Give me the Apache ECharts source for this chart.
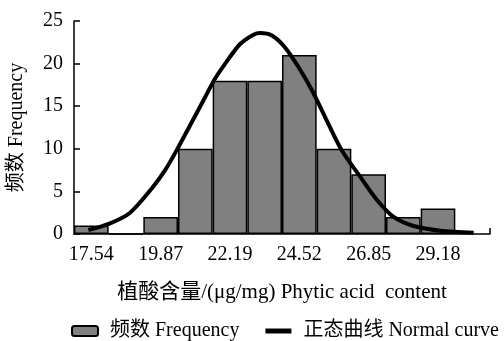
<!DOCTYPE html>
<html>
<head>
<meta charset="utf-8">
<script src="https://cdn.jsdelivr.net/npm/echarts@6/dist/echarts.min.js"></script>
<style>
  html, body { margin: 0; padding: 0; background: #fff; }
  #myChart { width: 504px; height: 341px; }
</style>
</head>
<body>
<div id="myChart"></div>
<script>
// 分组中值（每组宽 1.165）
var categories = ['17.54', '18.71', '19.87', '21.03', '22.19', '23.36', '24.52', '25.69', '26.85', '28.02', '29.18', '30.34'];
// 频数
var freq = [1, 0, 2, 10, 18, 18, 21, 10, 7, 2, 3, null];
// 正态曲线（从图上读取的点）
var curveX = [17.44, 18.17, 18.84, 19.57, 20.02, 20.41, 20.86, 21.31, 21.70, 22.04, 22.54, 22.99, 23.21, 23.61, 24.05, 24.50, 24.95, 25.40, 25.96, 26.58, 27.14, 27.70, 28.37, 29.27, 30.39];
var curveY = [0.47, 1.25, 2.5, 5.35, 7.5, 9.84, 12.77, 15.7, 18.24, 20.0, 22.3, 23.4, 23.6, 23.3, 21.9, 19.6, 16.9, 13.7, 9.8, 6.7, 4.0, 2.0, 0.94, 0.39, 0.15];

var binLeft = 16.9575, binRight = 30.9375;
var font = '"Liberation Serif", "Noto Sans CJK SC", serif';

var curve = curveX.map(function (x, i) { return [x, curveY[i]]; });

var myChart = echarts.init(document.getElementById('myChart'));
var option = {
  animation: false,
  textStyle: { fontFamily: font, color: '#000' },
  grid: { left: 74, right: 14, top: 21, bottom: 107, outerBoundsMode: 'none' },
  legend: {
    top: 316,
    left: 66,
    itemGap: 26,
    itemWidth: 26,
    itemHeight: 10,
    textStyle: { fontFamily: font, fontSize: 20, color: '#000', padding: [0, 0, 0, 7] },
    data: [
      { name: '频数 Frequency', icon: 'roundRect' },
      { name: '正态曲线 Normal curve', icon: 'path://M0,0L26,0L26,5L0,5Z' }
    ]
  },
  xAxis: [
    {
      type: 'category',
      data: categories,
      boundaryGap: true,
      name: '植酸含量/(μg/mg) Phytic acid  content',
      nameLocation: 'middle',
      nameGap: 48,
      nameTextStyle: { fontFamily: font, fontSize: 21, color: '#000' },
      axisLine: { lineStyle: { color: '#000', width: 1.5 } },
      axisTick: { show: false },
      axisLabel: { interval: 1, fontFamily: font, fontSize: 20, color: '#000', margin: 11 }
    },
    {
      type: 'value',
      min: binLeft,
      max: binRight,
      position: 'bottom',
      axisLine: { show: false },
      splitLine: { show: false },
      axisLabel: { show: false },
      axisTick: { show: true, inside: true, length: 6, customValues: [binRight], lineStyle: { color: '#000', width: 1.5 } }
    }
  ],
  yAxis: {
    type: 'value',
    min: 0,
    max: 25,
    interval: 5,
    name: '频数 Frequency',
    nameLocation: 'middle',
    nameGap: 47,
    nameTextStyle: { fontFamily: font, fontSize: 20, color: '#000' },
    axisLine: { show: true, lineStyle: { color: '#000', width: 1.5 } },
    axisTick: { show: true, inside: true, length: 6, lineStyle: { color: '#000', width: 1.5 } },
    splitLine: { show: false },
    axisLabel: { fontFamily: font, fontSize: 20, color: '#000', margin: 11 }
  },
  series: [
    {
      name: '频数 Frequency',
      type: 'bar',
      xAxisIndex: 0,
      data: freq,
      barCategoryGap: 0,
      itemStyle: { color: '#808080', borderColor: '#000', borderWidth: 1.5 }
    },
    {
      name: '正态曲线 Normal curve',
      type: 'line',
      xAxisIndex: 1,
      data: curve,
      smooth: 0.3,
      symbol: 'none',
      itemStyle: { color: '#000' },
      lineStyle: { color: '#000', width: 4 }
    }
  ]
};
window.onresize = myChart.resize;
myChart.setOption(option);
</script>
</body>
</html>
